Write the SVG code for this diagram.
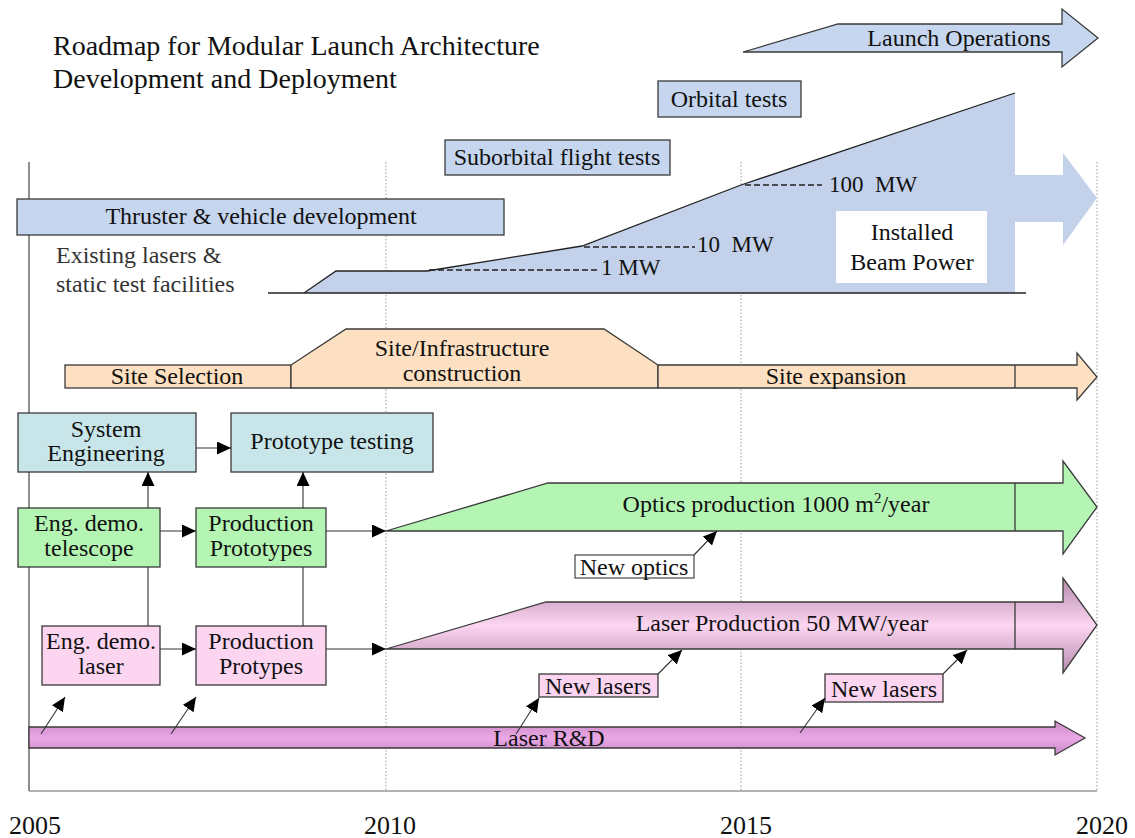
<svg xmlns="http://www.w3.org/2000/svg" width="1135" height="838" viewBox="0 0 1135 838">
  <style>
    text { font-family: "Liberation Serif", "Times New Roman", serif; fill: #111; font-size: 24px; }
    .t23 { font-size: 23px; }
    .t26 { font-size: 26px; }
    .t28 { font-size: 28px; }
    .sup { font-size: 15px; }
    .mid { text-anchor: middle; }
    .box { stroke: #3a3a3a; stroke-width: 1.3; }
    .blue { fill: #c6d6ef; }
    .peach { fill: #fde0c2; }
    .cyan { fill: #c8e6ea; }
    .green { fill: #b5f5b4; }
    .pink { fill: #fcd5f1; }
    .grid { stroke: #9a9a9a; stroke-width: 1; stroke-dasharray: 1.5 2; fill: none; }
    .conn { stroke: #333; stroke-width: 1.1; fill: none; }
    .dash { stroke: #222; stroke-width: 1.3; stroke-dasharray: 6 3; fill: none; }
  </style>
  <defs>
    <marker id="head" markerUnits="userSpaceOnUse" markerWidth="15" markerHeight="14" refX="14" refY="6.5" orient="auto">
      <path d="M0,0 L14,6.5 L0,13 Z" fill="#000"/>
    </marker>
    <linearGradient id="laserProdFill" gradientUnits="userSpaceOnUse" x1="0" y1="578" x2="0" y2="673">
      <stop offset="0" stop-color="#b48aac"/>
      <stop offset="0.5" stop-color="#fdd6f2"/>
      <stop offset="1" stop-color="#b48aac"/>
    </linearGradient>
    <linearGradient id="laserRdFill" gradientUnits="userSpaceOnUse" x1="0" y1="721" x2="0" y2="755">
      <stop offset="0" stop-color="#c88ac4"/>
      <stop offset="0.5" stop-color="#eaa8e6"/>
      <stop offset="1" stop-color="#c88ac4"/>
    </linearGradient>
  </defs>

  <rect width="1135" height="838" fill="#fff"/>

  <!-- time axis -->
  <g id="axis">
    <line x1="29" y1="162" x2="29" y2="791" stroke="#444" stroke-width="1.2"/>
    <line x1="29" y1="791" x2="1097" y2="791" stroke="#666" stroke-width="1.2"/>
    <line class="grid" x1="386" y1="162" x2="386" y2="791"/>
    <line class="grid" x1="741" y1="162" x2="741" y2="791"/>
    <line class="grid" x1="1097" y1="162" x2="1097" y2="791"/>
    <text x="35" y="834" class="t26 mid">2005</text>
    <text x="390" y="834" class="t26 mid">2010</text>
    <text x="746" y="834" class="t26 mid">2015</text>
    <text x="1102" y="834" class="t26 mid">2020</text>
  </g>

  <g id="title">
    <text x="53" y="55" class="t28">Roadmap for Modular Launch Architecture</text>
    <text x="53" y="88" class="t28">Development and Deployment</text>
  </g>

  <!-- vehicle track -->
  <g id="launch-operations">
    <path class="box blue" d="M743,52 L838,24 L1062,24 L1062,9 L1098,38 L1062,67 L1062,52 Z"/>
    <text x="959" y="46" class="mid">Launch Operations</text>
  </g>
  <g id="orbital-tests">
    <rect class="box blue" x="658" y="81" width="143" height="36"/>
    <text x="729" y="107" class="mid">Orbital tests</text>
  </g>
  <g id="suborbital-tests">
    <rect class="box blue" x="445" y="140" width="225" height="35"/>
    <text x="557" y="165" class="mid">Suborbital flight tests</text>
  </g>
  <g id="thruster-development">
    <rect class="box blue" x="17" y="199" width="487" height="36"/>
    <text x="261" y="224" class="mid">Thruster &amp; vehicle development</text>
  </g>
  <g id="existing-lasers">
    <text x="56" y="263" style="fill:#333">Existing lasers &amp;</text>
    <text x="56" y="292" style="fill:#333">static test facilities</text>
  </g>

  <!-- installed beam power ramp -->
  <g id="beam-power">
    <path fill="#c3d1ea" d="M304,293 L336,271 L427,271 L582,246 L741,185 L1015,93 L1015,175 L1063,175 L1063,153 L1097,198 L1063,245 L1063,222 L1015,222 L1015,293 Z"/>
    <polyline fill="none" stroke="#222" stroke-width="1.3" points="304,293 336,271 427,271 582,246 741,185 1015,93"/>
    <line x1="268" y1="293" x2="1026" y2="293" stroke="#222" stroke-width="1.4"/>
    <line class="dash" x1="429" y1="270" x2="598" y2="270"/>
    <line class="dash" x1="584" y1="247" x2="695" y2="247"/>
    <line class="dash" x1="745" y1="185" x2="822" y2="185"/>
    <text x="601" y="275" class="t23" xml:space="preserve">1 MW</text>
    <text x="697" y="252" class="t23" xml:space="preserve">10  MW</text>
    <text x="829" y="192" class="t23" xml:space="preserve">100  MW</text>
    <rect x="836" y="211" width="151" height="72" fill="#fff"/>
    <text x="912" y="240" class="mid">Installed</text>
    <text x="912" y="270" class="mid">Beam Power</text>
  </g>

  <!-- site track -->
  <g id="site-selection">
    <rect class="box peach" x="65" y="365" width="226" height="23"/>
    <text x="177" y="384" class="mid">Site Selection</text>
  </g>
  <g id="site-construction">
    <path class="box peach" d="M291,388 L291,365 L346,329 L604,329 L658,365 L658,388 Z"/>
    <text x="462" y="356" class="mid">Site/Infrastructure</text>
    <text x="462" y="381" class="mid">construction</text>
  </g>
  <g id="site-expansion">
    <path class="box peach" d="M658,365 L1077,365 L1077,353 L1097,377 L1077,400 L1077,388 L658,388 Z"/>
    <line class="box" x1="1015" y1="365" x2="1015" y2="388"/>
    <text x="836" y="384" class="mid">Site expansion</text>
  </g>

  <!-- engineering -->
  <g id="system-engineering">
    <rect class="box cyan" x="18" y="413" width="178" height="59"/>
    <text x="106" y="437" class="mid">System</text>
    <text x="106" y="461" class="mid">Engineering</text>
  </g>
  <g id="prototype-testing">
    <rect class="box cyan" x="231" y="413" width="202" height="59"/>
    <text x="332" y="449" class="mid">Prototype testing</text>
  </g>

  <!-- optics track -->
  <g id="demo-telescope">
    <rect class="box green" x="18" y="508" width="142" height="59"/>
    <text x="89" y="531" class="mid">Eng. demo.</text>
    <text x="89" y="556" class="mid">telescope</text>
  </g>
  <g id="production-prototypes">
    <rect class="box green" x="196" y="508" width="130" height="59"/>
    <text x="261" y="531" class="mid">Production</text>
    <text x="261" y="556" class="mid">Prototypes</text>
  </g>
  <g id="optics-production">
    <path class="box green" d="M386,531 L548,483 L1063,483 L1063,461 L1097,507 L1063,554 L1063,531 Z"/>
    <line class="box" x1="1015" y1="483" x2="1015" y2="531"/>
    <text x="776" y="512" class="mid">Optics production 1000 m<tspan class="sup" dy="-9">2</tspan><tspan dy="9">/year</tspan></text>
  </g>
  <g id="new-optics">
    <rect x="575" y="555" width="119" height="23" fill="#fff" stroke="#333" stroke-width="1.1"/>
    <text x="634" y="575" class="mid">New optics</text>
  </g>

  <!-- laser track -->
  <g id="demo-laser">
    <rect class="box pink" x="42" y="626" width="118" height="59"/>
    <text x="101" y="649" class="mid">Eng. demo.</text>
    <text x="101" y="674" class="mid">laser</text>
  </g>
  <g id="production-protypes">
    <rect class="box pink" x="196" y="626" width="130" height="59"/>
    <text x="261" y="649" class="mid">Production</text>
    <text x="261" y="674" class="mid">Protypes</text>
  </g>
  <g id="laser-production">
    <path class="box" fill="url(#laserProdFill)" d="M386,649 L546,602 L1063,602 L1063,578 L1097,625 L1063,673 L1063,649 Z"/>
    <line class="box" x1="1015" y1="602" x2="1015" y2="649"/>
    <text x="782" y="631" class="mid">Laser Production 50 MW/year</text>
  </g>
  <g id="new-lasers-1">
    <rect class="box pink" x="539" y="674" width="119" height="23" stroke-width="1.1"/>
    <text x="598" y="694" class="mid">New lasers</text>
  </g>
  <g id="new-lasers-2">
    <rect class="box pink" x="825" y="674" width="118" height="28" stroke-width="1.1"/>
    <text x="884" y="697" class="mid">New lasers</text>
  </g>
  <g id="laser-rd">
    <path class="box" fill="url(#laserRdFill)" d="M29,727 L1055,727 L1055,721 L1085,738 L1055,755 L1055,748 L29,748 Z"/>
    <text x="549" y="746" class="mid">Laser R&amp;D</text>
  </g>

  <!-- connectors -->
  <g id="connectors">
    <line class="conn" x1="196" y1="448" x2="231" y2="448" marker-end="url(#head)"/>
    <line class="conn" x1="148" y1="626" x2="148" y2="567"/>
    <line class="conn" x1="148" y1="508" x2="148" y2="472" marker-end="url(#head)"/>
    <line class="conn" x1="303" y1="626" x2="303" y2="567"/>
    <line class="conn" x1="303" y1="508" x2="303" y2="472" marker-end="url(#head)"/>
    <line class="conn" x1="160" y1="531" x2="196" y2="531" marker-end="url(#head)"/>
    <line class="conn" x1="326" y1="531" x2="386" y2="531" marker-end="url(#head)"/>
    <line class="conn" x1="160" y1="649" x2="196" y2="649" marker-end="url(#head)"/>
    <line class="conn" x1="326" y1="649" x2="386" y2="649" marker-end="url(#head)"/>
    <line class="conn" x1="41" y1="734" x2="65" y2="697" marker-end="url(#head)"/>
    <line class="conn" x1="171" y1="734" x2="196" y2="697" marker-end="url(#head)"/>
    <line class="conn" x1="516" y1="734" x2="539" y2="698" marker-end="url(#head)"/>
    <line class="conn" x1="800" y1="733" x2="825" y2="698" marker-end="url(#head)"/>
    <line class="conn" x1="694" y1="555" x2="717" y2="531" marker-end="url(#head)"/>
    <line class="conn" x1="658" y1="674" x2="682" y2="650" marker-end="url(#head)"/>
    <line class="conn" x1="943" y1="674" x2="967" y2="650" marker-end="url(#head)"/>
  </g>
</svg>
